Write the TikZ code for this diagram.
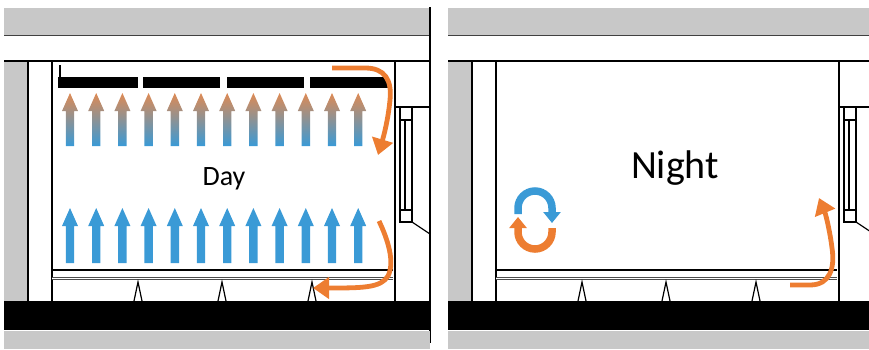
\documentclass[tikz,border=0pt]{standalone}
\usepackage{fontspec}
\setmainfont{Carlito}
\usetikzlibrary{arrows.meta}

\definecolor{slabgrey}{RGB}{200,200,200}
\definecolor{airorange}{RGB}{237,125,49}
\definecolor{airblue}{RGB}{58,154,214}
\definecolor{warmtan}{RGB}{222,138,84}

\begin{document}
\begin{tikzpicture}[x=1pt, y=-1pt,
  wall/.style={line width=2pt},
  thinwall/.style={line width=1.2pt},
  flow/.style={draw=airorange, line width=4.8pt, -{Triangle[width=21pt,length=16pt]}},
  swirl/.style={line width=7.5pt, -{Triangle[width=17pt,length=11pt]}}]
  \useasboundingbox (0,0) rectangle (869,349);
  \clip (0,0) rectangle (869,349);

  % both rooms share the same section
  \foreach \dx in {0,444} {
    \begin{scope}[xshift=\dx pt]
      \fill[slabgrey] (4,8) rectangle (430,35);
      \draw[line width=1pt, gray!50!black] (4,35.5) -- (430,35.5);
      \draw[wall] (4,61) -- (430,61);
      \fill[slabgrey] (4,62) rectangle (27,301);
      \draw[line width=2.5pt] (28,61) -- (28,301);
      \draw[wall] (52,61) -- (52,301);
      \draw[thinwall] (395,61) -- (395,301);
      \draw[wall] (430,7) -- (430,343);
      % window
      \draw[thinwall] (395,107) -- (430,107);
      \draw[thinwall] (400,107) rectangle (412,120);
      \draw[thinwall] (400,120) -- (400,210) (405,120) -- (405,210) (412,120) -- (412,210);
      \draw[thinwall] (400,210) rectangle (412,222);
      \draw[thinwall] (412,222) -- (430,234);
      % raised floor
      \draw[line width=2.5pt] (52,270) -- (393,270);
      \draw[gray!60!black, line width=0.6pt, double=white, double distance=1.8pt] (52,278.5) -- (393,278.5);
      \foreach \t in {138,222,312}
        \draw[thinwall, fill=white] (\t-4,301) -- (\t,282) -- (\t+4,301);
      \fill (4,301) rectangle (430,330);
      \fill[slabgrey] (4,331) rectangle (430,349);
    \end{scope}
  }

  % ceiling panel
  \draw[line width=2pt] (60,65) -- (60,78);
  \foreach \a/\b in {58/138,143/220,227/304,310/388}
    \fill (\a,77) rectangle (\b,88);

  \foreach \i in {0,...,11} {
    \pgfmathsetmacro{\x}{70+26.2*\i}
    \shade[top color=warmtan, bottom color=airblue]
      (\x-4.2,146) -- (\x-4.2,111) -- (\x-8,111) -- (\x,93) -- (\x+8,111) -- (\x+4.2,111) -- (\x+4.2,146) -- cycle;
    \fill[airblue]
      (\x-4.2,263) -- (\x-4.2,226) -- (\x-8,226) -- (\x,208) -- (\x+8,226) -- (\x+4.2,226) -- (\x+4.2,263) -- cycle;
  }

  \node[font=\fontsize{28}{30}\selectfont] (day) at (224,179) {Day};
  \node[font=\fontsize{40}{44}\selectfont] (night) at (675,168) {Night};

  \draw[flow] (332,68) -- (365,68) .. controls (385,68) and (392,80) .. (390,100)
    .. controls (388,120) and (384,135) .. (378,155);
  \draw[flow] (379,221) .. controls (388,240) and (395,262) .. (388,276)
    .. controls (381,288) and (362,288) .. (313,288);
  \draw[flow] (790,285) -- (810,285) .. controls (830,285) and (835,268) .. (832,248)
    .. controls (830,232) and (826,215) .. (819,198);

  \draw[swirl, airblue] (518,214) -- (518,208) arc[start angle=180, end angle=360, radius=17] -- (552,223);
  \draw[swirl, airorange] (552,228) -- (552,232) arc[start angle=0, end angle=180, radius=17] -- (518,217);
\end{tikzpicture}
\end{document}
